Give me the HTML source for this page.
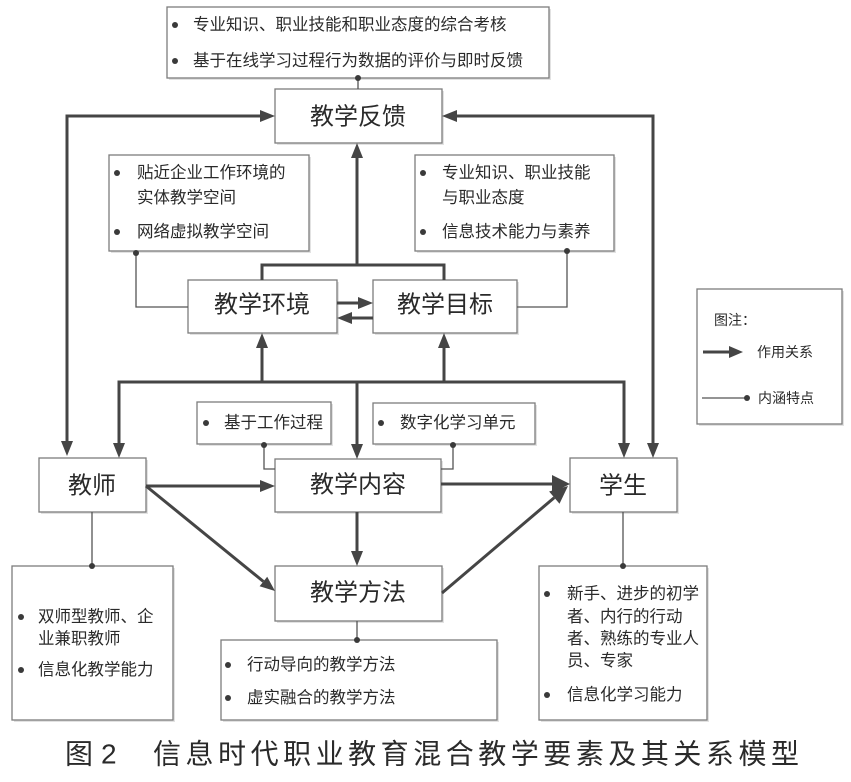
<!DOCTYPE html>
<html><head><meta charset="utf-8">
<style>
html,body{margin:0;padding:0;background:#fff;}
svg{display:block;}
text{font-family:"Liberation Sans","Noto Sans CJK SC","WenQuanYi Zen Hei",sans-serif;fill:#2a2a2a;}
.box{fill:#fff;stroke:#7c7c7c;stroke-width:1.3;}
.sh{fill:#e2e2e2;}
.thick{stroke:#454545;stroke-width:3;fill:none;}
.head{fill:#454545;}
.thin{stroke:#555;stroke-width:1.3;fill:none;}
.dot{fill:#3a3a3a;}
.lab{font-size:24px;}
.sm{font-size:16.5px;}
.lg{font-size:14px;}
</style></head>
<body>
<svg width="851" height="782" viewBox="0 0 851 782" xmlns="http://www.w3.org/2000/svg">
<!-- shadows -->
<g class="sh">
<rect x="169" y="9" width="382" height="71"/>
<rect x="277" y="91" width="167" height="54"/>
<rect x="111" y="157" width="200" height="96"/>
<rect x="417" y="157" width="199" height="96"/>
<rect x="190" y="282" width="149" height="53"/>
<rect x="375" y="282" width="144" height="53"/>
<rect x="699" y="291" width="145" height="135"/>
<rect x="199" y="404" width="134" height="42"/>
<rect x="375" y="405" width="162" height="41"/>
<rect x="41" y="460" width="107" height="54"/>
<rect x="277" y="461" width="166" height="53"/>
<rect x="572" y="460" width="107" height="54"/>
<rect x="277" y="568" width="167" height="55"/>
<rect x="14" y="568" width="161" height="154"/>
<rect x="223" y="642" width="276" height="80"/>
<rect x="541" y="568" width="168" height="154"/>
</g>
<!-- boxes -->
<rect class="box" x="167" y="7" width="382" height="71"/>
<rect class="box" x="275" y="89" width="167" height="54"/>
<rect class="box" x="109" y="155" width="200" height="96"/>
<rect class="box" x="415" y="155" width="199" height="96"/>
<rect class="box" x="188" y="280" width="149" height="53"/>
<rect class="box" x="373" y="280" width="144" height="53"/>
<rect class="box" x="697" y="289" width="145" height="135"/>
<rect class="box" x="197" y="402" width="134" height="42"/>
<rect class="box" x="373" y="403" width="162" height="41"/>
<rect class="box" x="39" y="458" width="107" height="54"/>
<rect class="box" x="275" y="459" width="166" height="53"/>
<rect class="box" x="570" y="458" width="107" height="54"/>
<rect class="box" x="275" y="566" width="167" height="55"/>
<rect class="box" x="12" y="566" width="161" height="154"/>
<rect class="box" x="221" y="640" width="276" height="80"/>
<rect class="box" x="539" y="566" width="168" height="154"/>

<!-- thick connectors -->
<polyline class="thick" points="67,441 67,116 260,116"/>
<polygon class="head" points="275,116 260,110 260,122"/>
<polygon class="head" points="67,456 61,441 73,441"/>
<polyline class="thick" points="653,443 653,116 457,116"/>
<polygon class="head" points="442,116 457,110 457,122"/>
<polygon class="head" points="653,458 647,443 659,443"/>
<line class="thick" x1="357" y1="265" x2="357" y2="158"/>
<polygon class="head" points="357,143 351,158 363,158"/>
<polyline class="thick" points="262,280 262,265 444,265 444,280"/>
<line class="thick" x1="337" y1="303" x2="358" y2="303"/>
<polygon class="head" points="373,303 358,297 358,309"/>
<line class="thick" x1="373" y1="318" x2="352" y2="318"/>
<polygon class="head" points="337,318 352,312 352,324"/>
<polyline class="thick" points="119,443 119,382 624,382 624,443"/>
<polygon class="head" points="119,458 113,443 125,443"/>
<polygon class="head" points="624,458 618,443 630,443"/>
<line class="thick" x1="262" y1="382" x2="262" y2="348"/>
<polygon class="head" points="262,333 256,348 268,348"/>
<line class="thick" x1="444" y1="382" x2="444" y2="348"/>
<polygon class="head" points="444,333 438,348 450,348"/>
<line class="thick" x1="357" y1="382" x2="357" y2="444"/>
<polygon class="head" points="357,459 351,444 363,444"/>
<line class="thick" x1="146" y1="486" x2="260" y2="486"/>
<polygon class="head" points="275,486 260,480 260,492"/>
<line class="thick" x1="441" y1="484" x2="553" y2="484"/>
<polygon class="head" points="570,484 552,475 552,493"/>
<line class="thick" x1="146" y1="486" x2="263.4" y2="581.5"/>
<polygon class="head" points="275,591 259.6,586.2 267.2,576.8"/>
<line class="thick" x1="442" y1="593" x2="554.3" y2="497.6"/>
<polygon class="head" points="568,486 559.5,503.7 549.1,491.5"/>
<line class="thick" x1="357" y1="512" x2="357" y2="551"/>
<polygon class="head" points="357,566 351,551 363,551"/>

<!-- thin connectors -->
<line class="thin" x1="358" y1="78" x2="358" y2="89"/><circle class="dot" cx="358" cy="78" r="3"/>
<polyline class="thin" points="136,253 136,307 188,307"/><circle class="dot" cx="136" cy="253" r="3"/>
<polyline class="thin" points="567,251 567,307 517,307"/><circle class="dot" cx="567" cy="251" r="3"/>
<polyline class="thin" points="264,444 264,469 275,469"/><circle class="dot" cx="264" cy="445" r="3"/>
<polyline class="thin" points="453,444 453,469 441,469"/><circle class="dot" cx="453" cy="445" r="3"/>
<line class="thin" x1="92" y1="512" x2="92" y2="566"/><circle class="dot" cx="92" cy="566" r="3"/>
<line class="thin" x1="357" y1="621" x2="357" y2="640"/><circle class="dot" cx="357" cy="640" r="3"/>
<line class="thin" x1="623" y1="512" x2="623" y2="566"/><circle class="dot" cx="623" cy="566" r="3"/>

<!-- legend -->
<text class="lg" x="714" y="320" dominant-baseline="central">图注：</text>
<line class="thick" x1="703" y1="352" x2="729" y2="352"/>
<polygon class="head" points="743,352 729,346 729,358"/>
<text class="lg" x="757" y="352" dominant-baseline="central">作用关系</text>
<line class="thin" x1="702" y1="398" x2="747" y2="398"/><circle class="dot" cx="747" cy="398" r="3"/>
<text class="lg" x="758" y="398" dominant-baseline="central">内涵特点</text>

<!-- main labels -->
<g class="lab" text-anchor="middle">
<text x="358" y="117" dominant-baseline="central">教学反馈</text>
<text x="262" y="305" dominant-baseline="central">教学环境</text>
<text x="445" y="305" dominant-baseline="central">教学目标</text>
<text x="92" y="486" dominant-baseline="central">教师</text>
<text x="358" y="485" dominant-baseline="central">教学内容</text>
<text x="623" y="486" dominant-baseline="central">学生</text>
<text x="358" y="593" dominant-baseline="central">教学方法</text>
</g>

<!-- bullet texts -->
<g class="sm">
<circle cx="175" cy="25" r="3" class="dot"/><text x="193" y="25" dominant-baseline="central">专业知识、职业技能和职业态度的综合考核</text>
<circle cx="175" cy="61" r="3" class="dot"/><text x="193" y="61" dominant-baseline="central">基于在线学习过程行为数据的评价与即时反馈</text>

<circle cx="117" cy="173" r="3" class="dot"/><text x="137" y="173" dominant-baseline="central">贴近企业工作环境的</text>
<text x="137" y="198" dominant-baseline="central">实体教学空间</text>
<circle cx="117" cy="232" r="3" class="dot"/><text x="137" y="232" dominant-baseline="central">网络虚拟教学空间</text>

<circle cx="423" cy="173" r="3" class="dot"/><text x="442" y="173" dominant-baseline="central">专业知识、职业技能</text>
<text x="442" y="198" dominant-baseline="central">与职业态度</text>
<circle cx="423" cy="232" r="3" class="dot"/><text x="442" y="232" dominant-baseline="central">信息技术能力与素养</text>

<circle cx="206" cy="423" r="3" class="dot"/><text x="224" y="423" dominant-baseline="central">基于工作过程</text>
<circle cx="381" cy="423" r="3" class="dot"/><text x="400" y="423" dominant-baseline="central">数字化学习单元</text>

<circle cx="21" cy="617" r="3" class="dot"/><text x="38" y="617" dominant-baseline="central">双师型教师、企</text>
<text x="38" y="639" dominant-baseline="central">业兼职教师</text>
<circle cx="21" cy="670" r="3" class="dot"/><text x="38" y="670" dominant-baseline="central">信息化教学能力</text>

<circle cx="228" cy="665" r="3" class="dot"/><text x="247" y="665" dominant-baseline="central">行动导向的教学方法</text>
<circle cx="228" cy="698" r="3" class="dot"/><text x="247" y="698" dominant-baseline="central">虚实融合的教学方法</text>

<circle cx="547" cy="594" r="3" class="dot"/><text x="567" y="594" dominant-baseline="central">新手、进步的初学</text>
<text x="567" y="617" dominant-baseline="central">者、内行的行动</text>
<text x="567" y="639" dominant-baseline="central">者、熟练的专业人</text>
<text x="567" y="661" dominant-baseline="central">员、专家</text>
<circle cx="547" cy="695" r="3" class="dot"/><text x="567" y="695" dominant-baseline="central">信息化学习能力</text>
</g>

<!-- caption -->
<g style="font-size:28px;">
<text x="65" y="754" dominant-baseline="central">图</text>
<text x="101" y="754" dominant-baseline="central">2</text>
<text x="153" y="754" dominant-baseline="central" textLength="646" lengthAdjust="spacing">信息时代职业教育混合教学要素及其关系模型</text>
</g>
</svg>
</body></html>
